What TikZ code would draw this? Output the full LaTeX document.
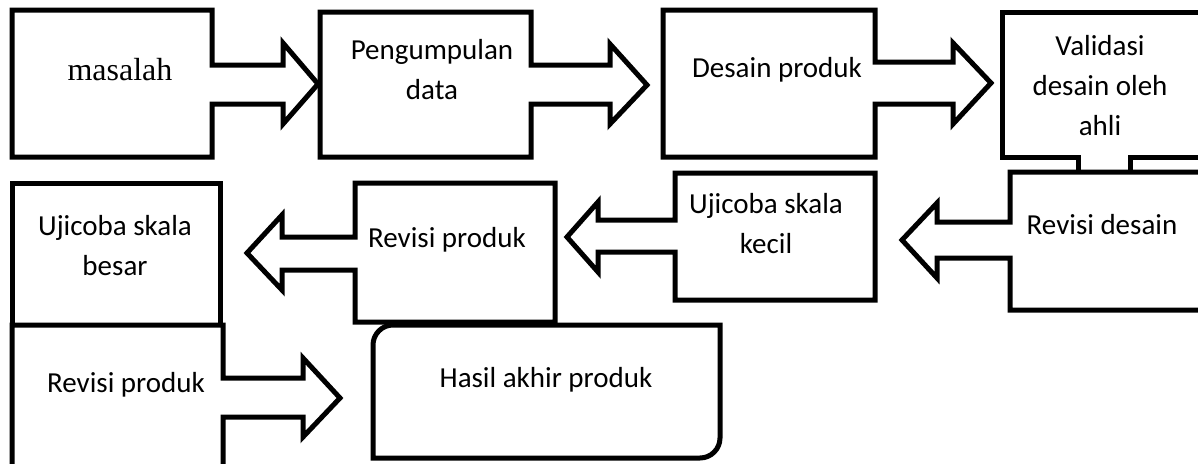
\documentclass[tikz,border=0pt]{standalone}
\usepackage{fontspec}
\setmainfont{Carlito}
\newfontfamily\timesfont{Liberation Serif}
\tikzset{
  callout/.style={draw=black, fill=white, line width=5pt, line join=miter},
  lbl/.style={font=\fontsize{29}{40}\selectfont, align=center, anchor=base, inner sep=0pt},
  serlbl/.style={font=\timesfont\fontsize{32}{40}\selectfont, anchor=base, inner sep=0pt}
}
\begin{document}
\begin{tikzpicture}[x=1pt,y=-1pt]
\useasboundingbox (0,0) rectangle (1198,463);
\clip (0,0) rectangle (1198,463);
\fill[white] (0,0) rectangle (1198,463);

% masalah -> Pengumpulan data
\draw[callout] (12,10) -- (212,10) -- (212,65) -- (283,65) -- (283,43) -- (318,84)
  -- (283,124) -- (283,104) -- (212,104) -- (212,157) -- (12,157) -- cycle;
% Pengumpulan data -> Desain produk
\draw[callout] (320,12) -- (531,12) -- (531,65) -- (610,65) -- (610,44) -- (647,85)
  -- (610,124) -- (610,104) -- (531,104) -- (531,157) -- (320,157) -- cycle;
% Desain produk -> Validasi
\draw[callout] (663,10) -- (875,10) -- (875,62) -- (953,62) -- (953,43) -- (991,83)
  -- (953,124) -- (953,104) -- (875,104) -- (875,157) -- (663,157) -- cycle;
% Validasi (down arrow)
\draw[callout] (1002,12) -- (1215,12) -- (1215,157) -- (1130,157) -- (1130,185)
  -- (1078,185) -- (1078,157) -- (1002,157) -- cycle;
% Revisi desain -> Ujicoba kecil
\draw[callout] (1010,172) -- (1215,172) -- (1215,310) -- (1010,310) -- (1010,258)
  -- (937,258) -- (937,278) -- (902,240) -- (937,203) -- (937,222) -- (1010,222) -- cycle;
% Ujicoba kecil -> Revisi produk
\draw[callout] (675,173) -- (875,173) -- (875,300) -- (675,300) -- (675,252)
  -- (598,252) -- (598,272) -- (567,237) -- (598,202) -- (598,220) -- (675,220) -- cycle;
% Revisi produk -> Ujicoba besar
\draw[callout] (355,183) -- (555,183) -- (555,322) -- (355,322) -- (355,270)
  -- (282,270) -- (282,290) -- (247,253) -- (282,215) -- (282,237) -- (355,237) -- cycle;
% Ujicoba besar
\draw[callout] (12,183) rectangle (220,325);
% Revisi produk (bottom) -> Hasil
\draw[callout] (12,325) -- (223,325) -- (223,378) -- (303,378) -- (303,358) -- (340,398)
  -- (303,437) -- (303,417) -- (223,417) -- (223,480) -- (12,480) -- cycle;
% Hasil akhir produk
\draw[callout] (373,458) -- (373,345) .. controls (373,334) and (382,325) .. (393,325)
  -- (720,325) -- (720,438) .. controls (720,449) and (711,458) .. (700,458) -- cycle;

\node[serlbl] (masalah) at (120,80) {masalah};
\node[lbl] (pengumpulan) at (432,99) {Pengumpulan\\data};
\node[lbl] (desain) at (777,77) {Desain produk};
\node[lbl] (validasi) at (1100,135) {Validasi\\desain oleh\\ahli};
\node[lbl] (revdesain) at (1102,234) {Revisi desain};
\node[lbl] (ujikecil) at (766,253) {Ujicoba skala\\kecil};
\node[lbl] (revproduk1) at (447,247) {Revisi produk};
\node[lbl] (ujibesar) at (115,275) {Ujicoba skala\\besar};
\node[lbl] (revproduk2) at (126,392) {Revisi produk};
\node[lbl] (hasil) at (546,387) {Hasil akhir produk};
\end{tikzpicture}
\end{document}
